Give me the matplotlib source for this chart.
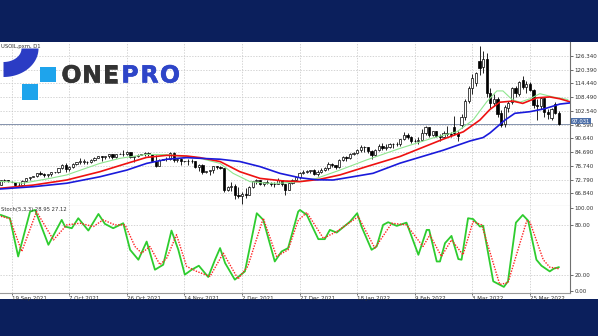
import matplotlib
matplotlib.use("Agg")
import matplotlib.pyplot as plt
import numpy as np
from matplotlib.patches import Rectangle, Polygon
import matplotlib.transforms as mtransforms
import matplotlib.patheffects as pe

# ---------------- data ----------------
symbol_label = "USOIL,pxm, D1"
stoch_label = "Stoch(5,3,3) 28.95 27.12"
last_price = 97.031

opens = [70.5, 72.6, 72.6, 71.9, 71.8, 70.3, 70.6, 72.2, 73.3, 74.0,
         74.2, 75.5, 75.3, 74.8, 75.0, 75.9, 76.1, 77.6, 78.9, 77.4,
         78.3, 79.4, 80.5, 80.5, 80.6, 80.4, 81.3, 82.3, 82.8, 82.4,
         83.0, 83.9, 82.5, 83.8, 84.0, 83.8, 84.6, 82.7, 82.8, 83.6,
         83.8, 84.1, 83.9, 80.9, 78.8, 81.3, 81.7, 81.9, 84.2, 81.3,
         81.6, 80.8, 80.7, 80.9, 80.8, 78.4, 79.0, 76.1, 76.4, 76.8,
         78.5, 78.4, 77.6, 68.2, 69.6, 70.0, 66.2, 65.6, 66.5, 66.3,
         69.5, 72.1, 72.4, 70.9, 71.7, 71.3, 70.7, 70.9, 72.4, 70.9,
         68.2, 71.1, 72.8, 73.8, 75.6, 76.0, 76.6, 77.0, 75.2, 76.1,
         77.0, 77.9, 79.5, 78.9, 78.2, 81.2, 82.6, 82.1, 83.8, 84.3,
         85.4, 87.0, 86.9, 85.1, 83.3, 85.6, 87.4, 86.6, 86.8, 88.2,
         88.0, 88.3, 90.3, 92.3, 91.3, 89.4, 89.7, 89.9, 93.1, 95.5,
         92.1, 93.7, 91.8, 91.1, 93.0, 92.4, 95.5, 93.0, 96.5, 99.8,
         107.0, 112.5, 114.5, 124.0, 121.5, 125.0, 110.5, 106.0, 107.5, 101.5,
         97.0, 104.0, 106.5, 112.3, 110.0, 115.9, 113.0, 114.0, 111.6, 105.1,
         104.5, 108.0, 102.0, 99.5, 105.5, 101.8]
highs = [72.8, 73.1, 72.8, 72.0, 71.9, 71.6, 72.5, 73.6, 74.1, 74.3,
         75.7, 76.7, 75.7, 75.4, 76.0, 76.2, 77.8, 79.5, 79.8, 78.8,
         80.1, 80.6, 82.2, 81.5, 81.0, 81.6, 82.4, 83.0, 83.0, 83.1,
         83.9, 84.0, 84.0, 84.2, 85.4, 85.0, 84.8, 83.0, 84.0, 83.9,
         84.9, 84.6, 84.0, 83.3, 81.8, 81.9, 82.5, 84.6, 84.9, 82.0,
         82.0, 81.0, 81.5, 81.5, 81.0, 79.5, 79.4, 76.6, 77.0, 78.6,
         78.7, 78.5, 78.0, 70.0, 71.8, 70.8, 69.4, 67.5, 69.0, 70.0,
         72.3, 72.9, 72.6, 71.9, 72.7, 71.9, 71.6, 73.3, 72.5, 71.0,
         71.3, 73.0, 73.9, 75.9, 76.9, 77.1, 77.0, 77.3, 76.8, 77.6,
         78.3, 80.2, 80.0, 79.2, 81.5, 83.0, 83.0, 84.2, 84.8, 86.0,
         87.9, 87.2, 87.0, 85.7, 85.9, 88.0, 88.5, 88.0, 88.6, 88.5,
         89.0, 90.4, 93.2, 93.0, 91.5, 90.2, 91.4, 94.7, 95.8, 95.6,
         93.9, 93.8, 92.7, 93.8, 96.0, 93.5, 100.5, 94.0, 101.0, 107.5,
         113.5, 118.5, 119.5, 130.5, 128.5, 127.5, 112.5, 110.0, 108.5, 103.0,
         105.0, 107.0, 113.0, 113.5, 115.5, 117.8, 115.5, 115.0, 112.0, 107.5,
         108.5, 108.3, 103.5, 104.0, 106.5, 102.5]
lows = [70.4, 71.9, 71.6, 71.7, 69.9, 70.2, 70.4, 71.9, 72.8, 73.9,
        73.9, 74.9, 73.9, 74.1, 74.3, 75.8, 75.8, 77.3, 76.0, 76.5,
        77.8, 79.3, 79.5, 79.5, 79.6, 80.0, 81.0, 82.2, 81.0, 81.8,
        82.3, 81.6, 82.0, 83.7, 82.9, 83.3, 82.3, 80.6, 82.5, 83.4,
        83.1, 82.9, 80.5, 78.3, 78.5, 81.2, 80.9, 81.4, 80.5, 80.6,
        79.3, 80.5, 79.1, 79.8, 77.8, 76.5, 75.3, 75.8, 74.8, 75.7,
        77.2, 77.3, 67.4, 68.0, 68.0, 64.4, 65.0, 62.4, 64.7, 66.1,
        69.3, 71.0, 70.5, 70.1, 70.8, 69.9, 69.6, 70.9, 70.2, 66.1,
        68.1, 70.9, 72.3, 73.0, 75.3, 75.5, 75.8, 74.9, 74.3, 75.6,
        76.4, 76.8, 78.2, 77.5, 77.9, 80.9, 81.0, 81.8, 83.6, 83.7,
        84.9, 84.8, 84.2, 81.8, 83.0, 85.0, 85.7, 85.8, 86.4, 86.6,
        87.3, 87.3, 89.8, 90.2, 88.6, 88.9, 88.2, 89.5, 92.2, 91.3,
        91.6, 91.2, 89.6, 90.9, 91.5, 91.3, 92.0, 89.6, 95.0, 98.5,
        106.0, 110.0, 113.5, 118.0, 119.0, 108.5, 104.0, 104.5, 100.0, 95.4,
        95.5, 102.0, 105.5, 108.5, 109.0, 112.0, 110.5, 111.0, 104.0, 98.5,
        103.5, 100.0, 99.0, 98.5, 101.0, 96.5]
closes = [72.6, 72.6, 72.0, 71.8, 70.3, 70.6, 72.2, 73.3, 74.0, 74.2,
          75.5, 75.3, 74.8, 75.0, 75.9, 76.1, 77.6, 78.9, 77.4, 78.3,
          79.4, 80.5, 80.5, 80.6, 80.4, 81.3, 82.3, 82.8, 82.4, 83.0,
          83.9, 82.5, 83.8, 84.0, 83.8, 84.6, 82.7, 82.8, 83.6, 83.8,
          84.1, 83.9, 80.9, 78.8, 81.3, 81.7, 81.9, 84.2, 81.3, 81.6,
          80.8, 80.7, 80.9, 80.8, 78.4, 79.0, 76.1, 76.4, 76.8, 78.5,
          78.4, 77.6, 68.2, 69.6, 70.0, 66.2, 65.6, 66.5, 66.3, 69.5,
          72.1, 72.4, 70.9, 71.7, 71.3, 70.7, 70.9, 72.4, 70.9, 68.2,
          71.1, 72.8, 73.8, 75.6, 76.0, 76.6, 77.0, 75.2, 76.1, 77.0,
          77.9, 79.5, 78.9, 78.2, 81.2, 82.6, 82.1, 83.8, 84.3, 85.4,
          87.0, 86.9, 85.1, 83.3, 85.6, 87.4, 86.6, 86.8, 88.2, 88.0,
          88.3, 90.3, 92.3, 91.3, 89.4, 89.7, 89.9, 93.1, 95.5, 92.1,
          93.7, 91.8, 91.1, 93.0, 92.4, 92.1, 93.0, 91.6, 99.8, 107.0,
          112.5, 117.0, 118.8, 121.0, 125.0, 110.2, 106.0, 107.5, 101.0, 96.5,
          104.4, 106.0, 112.3, 110.5, 114.9, 113.0, 114.0, 111.6, 105.1, 104.5,
          108.0, 102.0, 101.0, 103.5, 101.8, 97.031]

# Alligator lines (bar index, price)
jaw_idx = [-0.25, 9, 18.3, 27.5, 35, 40.5, 46.1, 51.6, 55.3, 60.9, 66.4, 72, 77.5, 83,
           87.7, 92.3, 97, 103.4, 110.9, 122.9, 130.3, 134, 135.9, 140, 142.8, 147, 151.1,
           155.3, 158.1]
jaw_val = [68.7, 69.7, 71.2, 74.0, 76.9, 79.8, 81.6, 82.3, 82.0, 81.6, 80.6, 78.4, 75.5, 73.6,
           72.7, 72.6, 73.8, 75.5, 79.9, 85.5, 89.5, 91.0, 93.0, 98.5, 101.5, 102.2, 103.5,
           105.5, 106.0]
teeth_idx = [-0.25, 9, 18.3, 27.5, 35, 40.5, 46.1, 51.6, 55.3, 60.9, 66.4, 72, 78.4, 83.1,
             88.6, 94.2, 101.6, 110.9, 122.9, 128.5, 133.1, 135.9, 138.6, 142.25, 145,
             148.9, 152.5, 155.3, 158.1]
teeth_val = [69.0, 70.4, 72.6, 76.2, 79.8, 82.4, 83.3, 83.0, 82.3, 80.6, 76.2, 73.3, 72.2, 71.9,
             72.9, 74.8, 78.4, 82.8, 90.3, 93.5, 98.6, 103.2, 106.3, 106.8, 105.8,
             108.2, 108.6, 107.8, 106.5]
lips_idx = [-0.25, 2.5, 6.1, 13.6, 18.3, 27.5, 33.1, 40.5, 46.1, 55.3, 60.9, 64.5, 69.2,
            73.8, 77.5, 83.1, 87.7, 94.2, 101.6, 110.9, 120, 126.7, 131.2, 135, 137.8,
            139.5, 142, 144.2, 147, 149.75, 153.4, 157.5]
lips_val = [72.0, 71.8, 71.2, 73.3, 74.8, 79.8, 82.0, 83.7, 83.6, 82.0, 79.8, 75.5, 71.9,
            71.2, 71.2, 71.9, 73.3, 76.9, 81.3, 86.3, 90.8, 93.5, 98.6, 106.5, 111.2,
            111.2, 107.5, 106.3, 107.8, 110.0, 108.6, 107.5]

# Stochastic (5,3,3)
k_idx = [0, 2.5, 4.8, 8.1, 9.5, 13.2, 16.9, 17.8, 19.7, 21.5, 24.3, 27.1, 28.9, 31.2, 34,
         35.9, 38.2, 40.5, 42.8, 45.1, 47.4, 49.3, 51.1, 53, 55, 57.6, 59.5, 60.9, 62.3,
         65, 67.8, 71.1, 72.9, 76.1, 78, 79.8, 82.6, 83.1, 85, 88.2, 90, 91.4, 93.3, 97,
         99, 100.2, 103, 104.4, 106.2, 107.6, 110, 112.7, 116, 118.3, 119, 121.1, 122,
         123.4, 125.2, 127.1, 128, 129.8, 131.2, 133.1, 134, 136.8, 139.75, 140.9, 143.1,
         145, 146.5, 148.8, 150.2, 152.5, 153.6, 155]
k_val = [91.6, 87.7, 41.8, 95.6, 97.6, 55.8, 85.7, 77.7, 75.7, 87.7, 72.9, 92.8, 80.9, 75.7,
         81.7, 49.8, 37.9, 59.7, 25.9, 31.9, 72.9, 49.8, 20.0, 25.9, 30.7, 17.2, 37.9, 51.9,
         33.9, 14.0, 23.9, 93.7, 85.7, 35.8, 47.8, 51.9, 95.6, 97.6, 91.6, 62.6, 62.6, 73.7,
         70.5, 83.6, 93.7, 77.7, 49.8, 53.8, 79.7, 82.9, 78.5, 82.4, 43.8, 73.7, 73.7, 35.8,
         35.8, 57.8, 66.5, 38.7, 37.9, 87.7, 86.7, 77.7, 78.7, 12.0, 5.3, 12.0, 82.4, 91.6,
         84.8, 37.9, 30.7, 23.9, 27.1, 28.95]
d_idx = [0, 2.5, 5.8, 9.9, 14.6, 18.3, 22, 25.7, 28.4, 31.7, 34.5, 37.25, 39.1, 41.4, 44.2,
         46.1, 48.8, 51.6, 54.4, 58.1, 61.8, 65.9, 68.6, 72.9, 76.6, 79.8, 82.6, 85, 89.6,
         93.3, 99.3, 103.9, 108.6, 112.7, 117.3, 119.2, 122.4, 125.2, 128.4, 131.2, 133.6,
         138.6, 140.9, 146.1, 147, 150.7, 152.5, 155]
d_val = [90.0, 87.0, 47.8, 95.6, 61.7, 79.7, 81.7, 77.7, 85.7, 79.7, 79.7, 53.8, 45.8, 53.8,
         31.9, 40.0, 67.9, 29.9, 23.9, 17.9, 45.8, 14.8, 30.0, 87.7, 41.8, 49.8, 85.0, 94.6,
         63.6, 71.7, 89.6, 51.8, 81.7, 79.7, 53.8, 67.7, 41.8, 61.7, 43.8, 83.6, 79.7, 8.3,
         10.3, 84.4, 83.0, 37.9, 29.0, 27.12]

price_ticks = [66.84, 72.79, 78.74, 84.69, 90.64, 96.59, 102.54, 108.49, 114.44, 120.39, 126.34]
stoch_ticks = [0, 20, 80, 100]
date_idx = [3, 19, 35, 51, 67, 83, 99, 115, 131, 147]
date_labels = ["19 Sep 2021", "7 Oct 2021", "26 Oct 2021", "14 Nov 2021", "2 Dec 2021",
               "27 Dec 2021", "18 Jan 2022", "9 Feb 2022", "3 Mar 2022", "25 Mar 2022"]

# ---------------- figure ----------------
NAVY = "#0b1f5c"
GRID = "#c4c4c4"
AXC = "#707070"

fig = plt.figure(figsize=(5.98, 3.36), dpi=100)
fig.patch.set_facecolor(NAVY)
fig.add_artist(Rectangle((0, 0.110), 1, 0.765, transform=fig.transFigure,
                         facecolor="white", edgecolor="none", zorder=0))

ax1 = fig.add_axes([0, 0.387, 0.953, 0.488])
ax2 = fig.add_axes([0, 0.128, 0.953, 0.259])
for ax in (ax1, ax2):
    ax.set_facecolor("white")
    ax.set_xlim(-0.25, 158.1)
    for s in ("left", "top"):
        ax.spines[s].set_visible(False)
    ax.spines["right"].set_color(AXC)
    ax.spines["right"].set_linewidth(0.8)
    ax.spines["bottom"].set_color("#9a9a9a")
    ax.spines["bottom"].set_linewidth(0.8)
    ax.yaxis.tick_right()
    ax.tick_params(axis="y", labelsize=4, length=2, width=0.5, pad=1.5,
                   colors="#303030", left=False)
    ax.set_xticks(date_idx)
    ax.grid(True, axis="x", color=GRID, linestyle=(0, (2, 2)), linewidth=0.5)
    ax.set_axisbelow(True)

# main panel
ax1.set_ylim(61.35, 132.4)
ax1.set_yticks(price_ticks)
ax1.set_yticklabels([f"{v:.3f}" for v in price_ticks])
ax1.grid(True, axis="y", color=GRID, linestyle=(0, (2, 2)), linewidth=0.5)
ax1.tick_params(axis="x", bottom=False, labelbottom=False)

x = np.arange(len(closes))
o = np.array(opens); h = np.array(highs); l = np.array(lows); c = np.array(closes)
up = c >= o
ax1.vlines(x, l, h, color="black", linewidth=0.6, zorder=2)
body_lo = np.minimum(o, c)
body_h = np.maximum(np.abs(c - o), 0.12)
ax1.bar(x[up], body_h[up], bottom=body_lo[up], width=0.62, facecolor="white",
        edgecolor="black", linewidth=0.5, zorder=3)
ax1.bar(x[~up], body_h[~up], bottom=body_lo[~up], width=0.62, facecolor="black",
        edgecolor="black", linewidth=0.5, zorder=3)

ax1.plot(lips_idx, lips_val, color="#8fe68f", linewidth=0.8, zorder=4)
ax1.plot(teeth_idx, teeth_val, color="#ee1111", linewidth=1.2, zorder=4)
ax1.plot(jaw_idx, jaw_val, color="#1a1adb", linewidth=1.2, zorder=4)

ax1.axhline(last_price, color="#8593ad", linewidth=0.7, zorder=1.5)
trans = mtransforms.blended_transform_factory(ax1.transAxes, ax1.transData)
ax1.text(1.003, last_price + 1.0, f"{last_price:.3f}", transform=trans, fontsize=3.8,
         color="white", va="center", ha="left", zorder=10,
         bbox=dict(boxstyle="square,pad=0.12", facecolor="#4d6fa8", edgecolor="none"))
ax1.text(0.002, 0.985, symbol_label, transform=ax1.transAxes, fontsize=3.8,
         color="#303030", va="top", ha="left")

# stochastic panel
ax2.set_ylim(-2, 102.4)
ax2.set_yticks(stoch_ticks)
ax2.set_yticklabels([f"{v:.2f}" for v in stoch_ticks])
for lvl in (20, 80):
    ax2.axhline(lvl, color=GRID, linestyle=(0, (2, 2)), linewidth=0.5, zorder=0.5)
ax2.plot(k_idx, k_val, color="#2ecc2e", linewidth=1.3, zorder=3)
ax2.plot(d_idx, d_val, color="#ff2222", linewidth=1.0, linestyle=(0, (1, 1)), zorder=4)
ax2.set_xticklabels(date_labels)
ax2.tick_params(axis="x", labelsize=4, length=1.5, width=0.5, pad=0.8, colors="#303030")
for t in ax2.get_xticklabels():
    t.set_ha("left")
ax2.text(0.002, 0.985, stoch_label, transform=ax2.transAxes, fontsize=3.8,
         color="#303030", va="top", ha="left")

# logo overlay in pixel coordinates
lax = fig.add_axes([0, 0, 1, 1], zorder=20)
lax.set_xlim(0, 598)
lax.set_ylim(336, 0)
lax.axis("off")
th = np.linspace(0, np.pi / 2, 40)
cx, cy = 3.5, 48.5
outer = np.column_stack([cx + 35 * np.cos(th), cy + 28.5 * np.sin(th)])
inner = np.column_stack([cx + 18 * np.cos(th), cy + 13.5 * np.sin(th)])[::-1]
lax.add_patch(Polygon(np.vstack([outer, inner]), closed=True, facecolor="#2b3cc4",
                      edgecolor="none"))
lax.add_patch(Rectangle((40, 66.5), 15.5, 15.5, facecolor="#1ea4ec", edgecolor="none"))
lax.add_patch(Rectangle((22, 83.5), 15.5, 16, facecolor="#1ea4ec", edgecolor="none"))
letters = [("O", 71.5, "#333333"), ("N", 92, "#333333"), ("E", 110.5, "#333333"),
           ("P", 130, "#2e45c8"), ("R", 149.5, "#2e45c8"), ("O", 170, "#2e45c8")]
for ch, xc, col in letters:
    lax.text(xc, 75.5, ch, fontsize=17, fontweight="bold", family="DejaVu Sans",
             color=col, ha="center", va="center",
             path_effects=[pe.withStroke(linewidth=0.4, foreground=col)])

fig.savefig("out.png", dpi=100, facecolor=NAVY)
